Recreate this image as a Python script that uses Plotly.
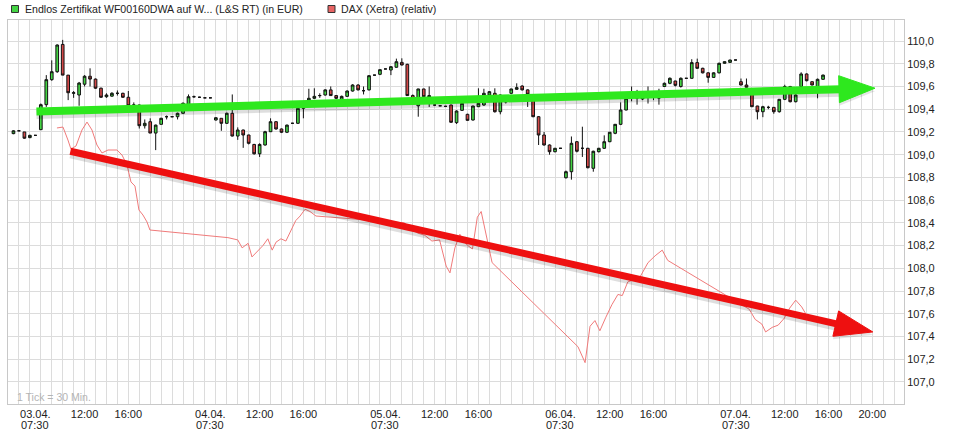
import plotly.graph_objects as go

# ---------------- data (30-min candles, index = slot) ----------------
OPEN = [109.185, 109.21, 109.20, 109.15, 109.17, 109.22, 109.44, 109.66, 109.73, 109.97,
        109.70, 109.54, 109.525, 109.62, 109.69, 109.665, 109.585, 109.51, 109.515, 109.54,
        109.54, 109.505, 109.437, 109.437, 109.255, 109.29, 109.19, 109.267, 109.334, 109.334,
        109.334, 109.364, 109.443, 109.51, 109.505, 109.50, 109.50, 109.305, 109.32, 109.276,
        109.364, 109.164, 109.217, 109.173, 109.09, 109.008, 109.085, 109.202, 109.29, 109.226,
        109.197, 109.276, 109.276, 109.408, 109.466, 109.496, 109.52, 109.525, 109.57, 109.52,
        109.487, 109.513, 109.56, 109.613, 109.563, 109.57, 109.70, 109.707, 109.754, 109.745,
        109.769, 109.812, 109.795, 109.52, 109.43, 109.578, 109.50, 109.437, 109.43, 109.425,
        109.437, 109.282, 109.39, 109.355, 109.305, 109.422, 109.437, 109.525, 109.54, 109.378,
        109.466, 109.54, 109.575, 109.604, 109.57, 109.48, 109.334, 109.173, 109.085, 109.026,
        109.056, 108.797, 108.85, 109.114, 109.056, 109.056, 108.88, 109.026, 109.056, 109.114,
        109.188, 109.267, 109.393, 109.51, 109.50, 109.49, 109.51, 109.51, 109.50, 109.60,
        109.628, 109.648, 109.60, 109.672, 109.672, 109.81, 109.76, 109.72, 109.68, 109.72,
        109.804, 109.812, 109.833, 109.642, 109.613, 109.54, 109.428, 109.378, 109.416, 109.416,
        109.378, 109.487, 109.60, 109.466, 109.60, 109.71, 109.642, 109.60, 109.663]
HIGH = [109.215, 109.21, 109.20, 109.175, 109.17, 109.45, 109.70, 109.83, 109.97, 110.01,
        109.70, 109.56, 109.64, 109.70, 109.76, 109.67, 109.59, 109.54, 109.55, 109.565,
        109.545, 109.56, 109.46, 109.44, 109.31, 109.32, 109.265, 109.325, 109.345, 109.34,
        109.37, 109.46, 109.53, 109.52, 109.51, 109.50, 109.50, 109.33, 109.32, 109.37,
        109.53, 109.24, 109.22, 109.175, 109.095, 109.10, 109.21, 109.32, 109.295, 109.23,
        109.265, 109.28, 109.41, 109.43, 109.58, 109.584, 109.54, 109.575, 109.60, 109.525,
        109.52, 109.565, 109.62, 109.62, 109.60, 109.70, 109.70, 109.75, 109.754, 109.78,
        109.845, 109.848, 109.80, 109.53, 109.58, 109.58, 109.60, 109.45, 109.43, 109.43,
        109.44, 109.39, 109.46, 109.36, 109.43, 109.584, 109.58, 109.56, 109.584, 109.53,
        109.48, 109.58, 109.628, 109.61, 109.575, 109.485, 109.34, 109.20, 109.09, 109.06,
        109.056, 108.86, 109.16, 109.12, 109.246, 109.06, 109.035, 109.06, 109.17, 109.20,
        109.27, 109.46, 109.50, 109.60, 109.57, 109.55, 109.60, 109.56, 109.58, 109.635,
        109.68, 109.65, 109.68, 109.672, 109.84, 109.845, 109.765, 109.725, 109.725, 109.81,
        109.82, 109.835, 109.833, 109.67, 109.67, 109.55, 109.43, 109.43, 109.43, 109.42,
        109.49, 109.615, 109.605, 109.53, 109.725, 109.715, 109.645, 109.67, 109.705]
LOW = [109.18, 109.21, 109.14, 109.145, 109.17, 109.22, 109.42, 109.65, 109.72, 109.70,
       109.48, 109.50, 109.43, 109.60, 109.60, 109.58, 109.50, 109.50, 109.51, 109.52,
       109.50, 109.43, 109.40, 109.23, 109.23, 109.19, 109.04, 109.265, 109.31, 109.33,
       109.31, 109.36, 109.44, 109.50, 109.50, 109.50, 109.50, 109.30, 109.21, 109.27,
       109.16, 109.13, 109.06, 109.09, 109.00, 108.98, 109.08, 109.20, 109.22, 109.19,
       109.19, 109.27, 109.27, 109.32, 109.46, 109.49, 109.50, 109.52, 109.52, 109.49,
       109.48, 109.51, 109.555, 109.565, 109.53, 109.565, 109.70, 109.70, 109.754, 109.70,
       109.765, 109.785, 109.52, 109.44, 109.334, 109.50, 109.42, 109.43, 109.43, 109.42,
       109.28, 109.27, 109.385, 109.30, 109.30, 109.42, 109.43, 109.52, 109.37, 109.355,
       109.45, 109.535, 109.57, 109.565, 109.42, 109.33, 109.085, 109.08, 109.00, 109.02,
       109.056, 108.79, 108.78, 109.02, 108.98, 108.88, 108.85, 109.02, 109.05, 109.11,
       109.18, 109.26, 109.39, 109.47, 109.44, 109.48, 109.45, 109.48, 109.44, 109.595,
       109.62, 109.60, 109.59, 109.672, 109.67, 109.755, 109.715, 109.633, 109.675, 109.715,
       109.80, 109.81, 109.833, 109.61, 109.59, 109.42, 109.31, 109.33, 109.40, 109.36,
       109.37, 109.48, 109.46, 109.46, 109.595, 109.645, 109.61, 109.496, 109.66]
CLOSE = [109.21, 109.21, 109.145, 109.17, 109.17, 109.44, 109.66, 109.73, 109.965, 109.70,
         109.545, 109.545, 109.63, 109.69, 109.665, 109.585, 109.505, 109.525, 109.54, 109.54,
         109.505, 109.43, 109.437, 109.255, 109.276, 109.19, 109.26, 109.32, 109.334, 109.334,
         109.364, 109.452, 109.51, 109.51, 109.505, 109.50, 109.50, 109.325, 109.276, 109.364,
         109.164, 109.217, 109.173, 109.10, 109.008, 109.09, 109.202, 109.29, 109.226, 109.197,
         109.26, 109.276, 109.408, 109.42, 109.496, 109.513, 109.52, 109.57, 109.52, 109.496,
         109.513, 109.56, 109.613, 109.57, 109.563, 109.695, 109.70, 109.748, 109.754, 109.774,
         109.818, 109.789, 109.52, 109.496, 109.578, 109.51, 109.52, 109.437, 109.43, 109.425,
         109.285, 109.384, 109.452, 109.302, 109.428, 109.452, 109.54, 109.554, 109.378, 109.525,
         109.466, 109.578, 109.59, 109.57, 109.531, 109.334, 109.173, 109.085, 109.026, 109.056,
         109.056, 108.85, 109.10, 109.03, 109.056, 108.885, 109.03, 109.056, 109.114, 109.197,
         109.267, 109.393, 109.496, 109.51, 109.50, 109.51, 109.51, 109.51, 109.50, 109.628,
         109.672, 109.61, 109.672, 109.672, 109.81, 109.76, 109.72, 109.68, 109.72, 109.804,
         109.818, 109.833, 109.833, 109.613, 109.593, 109.422, 109.378, 109.422, 109.416, 109.378,
         109.487, 109.60, 109.466, 109.525, 109.71, 109.651, 109.613, 109.663, 109.70]
SLOTS = list(range(len(OPEN)))

# DAX (Xetra) relative line: slot position, value
DAX_X = [7.95, 9.05, 9.96, 10.5, 11.43, 12.52, 13.44, 14.35, 15.26, 16.18, 17.28, 18.92,
         19.84, 20.75, 21.48, 22.21, 22.94, 23.67, 24.41, 24.95,
         39.2, 41.0, 41.8, 42.9, 43.6, 44.7, 45.6, 46.5, 47.3, 48.0, 48.9, 49.8, 50.7,
         51.6, 52.4, 53.3, 54.2, 55.3,
         71.5, 72.5, 73.9, 75.2, 76.5, 77.9, 79.1, 79.8, 80.7, 81.6, 82.8, 83.9, 84.8,
         85.5, 87.5,
         103.2, 104.5, 105.4, 106.3, 107.2, 108.3, 109.4, 110.5, 111.3, 112.3, 113.4,
         114.5, 116.0, 117.3, 118.6, 119.6,
         134.5, 135.6, 136.8, 137.5, 138.7, 139.8, 140.9, 141.9, 143.0, 144.1, 145.2, 146.3]
DAX_Y = [109.235, 109.243, 109.129, 109.05, 109.076, 109.217, 109.287, 109.217, 109.085,
         109.015, 109.041, 109.041, 108.997, 108.909, 108.76, 108.724, 108.513, 108.469,
         108.408, 108.337,
         108.27, 108.25, 108.18, 108.22, 108.10, 108.16, 108.20, 108.26, 108.16, 108.23,
         108.26, 108.24, 108.33, 108.42, 108.46, 108.52, 108.50, 108.46,
         108.40, 108.35, 108.31, 108.29, 108.24, 108.25, 108.02, 107.96, 108.18, 108.30,
         108.21, 108.17, 108.45, 108.50, 108.05,
         107.31, 107.17, 107.49, 107.54, 107.45, 107.57, 107.68, 107.77, 107.76, 107.88,
         107.90, 107.92, 108.05, 108.11, 108.16, 108.07,
         107.64, 107.55, 107.51, 107.44, 107.48, 107.50, 107.56, 107.65, 107.72, 107.66,
         107.57, 107.55]

# x tick labels (slot index of the labelled candle), first and second text line
X_TICKS = [4, 13, 21, 36, 45, 53, 68, 77, 85, 100, 109, 117, 132, 141, 149, 157]
X_LABELS = ["03.04.", "12:00", "16:00", "04.04.", "12:00", "16:00",
            "05.04.", "12:00", "16:00", "06.04.", "12:00", "16:00",
            "07.04.", "12:00", "16:00", "20:00"]
X_SUBLABELS = ["07:30", "", "", "07:30", "", "", "07:30", "", "", "07:30", "", "",
               "07:30", "", "", ""]
Y_TICKS = [107.0, 107.2, 107.4, 107.6, 107.8, 108.0, 108.2, 108.4, 108.6, 108.8,
           109.0, 109.2, 109.4, 109.6, 109.8, 110.0]

SERIES_NAMES = ["Endlos Zertifikat WF00160DWA auf W... (L&S RT) (in EUR)",
                "DAX (Xetra) (relativ)"]

# drawn trend arrows (tail -> tip, in axis units)
GREEN_ARROW = ((4.2, 109.38), (157.5, 109.585))
RED_ARROW = ((10.4, 109.03), (157.1, 107.44))

# ---------------- layout geometry ----------------
W, H = 954, 434
ML, MR, MT, MB = 8, 50, 20, 30
XR = [-1.0, 162.8]
YR = [106.806, 110.185]
PW, PH = W - ML - MR, H - MT - MB
sx = PW / (XR[1] - XR[0])
sy = PH / (YR[1] - YR[0])

GRID = "#dcdcdc"
TXT = "#222222"
FONT = "Liberation Sans, Arial, sans-serif"

fig = go.Figure()

fig.add_trace(go.Scatter(x=DAX_X, y=DAX_Y, mode="lines",
                         line=dict(color="#f07a7a", width=1), hoverinfo="skip",
                         showlegend=False))

fig.add_trace(go.Candlestick(
    x=SLOTS, open=OPEN, high=HIGH, low=LOW, close=CLOSE,
    increasing=dict(line=dict(color="#111111", width=1), fillcolor="#44d444"),
    decreasing=dict(line=dict(color="#111111", width=1), fillcolor="#d24848"),
    whiskerwidth=0, showlegend=False))


def arrow(tail, tip, head_len, head_w):
    (x0, y0), (x1, y1) = tail, tip
    dxp, dyp = (x1 - x0) * sx, (y1 - y0) * sy
    L = (dxp ** 2 + dyp ** 2) ** 0.5
    ux, uy = dxp / L, dyp / L
    nx, ny = -uy, ux
    bx, by = x1 - ux * head_len / sx, y1 - uy * head_len / sy
    tri_x = [x1, bx + nx * head_w / 2 / sx, bx - nx * head_w / 2 / sx, x1]
    tri_y = [y1, by + ny * head_w / 2 / sy, by - ny * head_w / 2 / sy, y1]
    line_end_x = x1 - ux * (head_len - 2) / sx
    line_end_y = y1 - uy * (head_len - 2) / sy
    return ([x0, line_end_x], [y0, line_end_y]), (tri_x, tri_y)


for (tail, tip, wdt, hl, hw, col) in [
        (GREEN_ARROW[0], GREEN_ARROW[1], 8, 36, 27, "#2ee81e"),
        (RED_ARROW[0], RED_ARROW[1], 7, 38, 26, "#ee1010")]:
    (lx, ly), (tx, ty) = arrow(tail, tip, hl, hw)
    off = 3 / sy
    fig.add_trace(go.Scatter(x=lx, y=[v - off for v in ly], mode="lines",
                             line=dict(color="rgba(0,0,0,0.13)", width=wdt + 1),
                             hoverinfo="skip", showlegend=False))
    fig.add_trace(go.Scatter(x=tx, y=[v - off for v in ty], mode="lines", fill="toself",
                             fillcolor="rgba(0,0,0,0.10)", line=dict(width=0),
                             hoverinfo="skip", showlegend=False))
    fig.add_trace(go.Scatter(x=lx, y=ly, mode="lines", line=dict(color=col, width=wdt),
                             hoverinfo="skip", showlegend=False))
    fig.add_trace(go.Scatter(x=tx, y=ty, mode="lines", fill="toself", fillcolor=col,
                             line=dict(color=col, width=1), hoverinfo="skip",
                             showlegend=False))


def px2paper_x(px):          # page pixel -> paper
    return (px - ML) / PW


def py2paper_y(py):
    return (H - MB - py) / PH


shapes = []
annotations = []
for (sq_x, txt_x, fill, label) in [(11.5, 22.5, "#44d444", SERIES_NAMES[0]),
                                   (328, 339, "#e86464", SERIES_NAMES[1])]:
    shapes.append(dict(type="rect", xref="paper", yref="paper",
                       x0=px2paper_x(sq_x), x1=px2paper_x(sq_x + 7),
                       y0=py2paper_y(12.5), y1=py2paper_y(5.5),
                       fillcolor=fill, line=dict(color="#333333", width=1)))
    annotations.append(dict(xref="paper", yref="paper", x=px2paper_x(txt_x),
                            y=py2paper_y(9), text=label, showarrow=False,
                            xanchor="left", yanchor="middle",
                            font=dict(family=FONT, size=10.6, color=TXT)))
annotations.append(dict(xref="paper", yref="paper", x=px2paper_x(15), y=py2paper_y(397),
                        text="1 Tick = 30 Min.", showarrow=False, xanchor="left",
                        yanchor="middle", font=dict(family=FONT, size=10.5, color="#b4b4b4")))
for xv, sub in zip(X_TICKS, X_SUBLABELS):
    if sub:
        annotations.append(dict(xref="x", yref="paper", x=xv, y=py2paper_y(425),
                                text=sub, showarrow=False, xanchor="center",
                                yanchor="middle", borderpad=0,
                                font=dict(family=FONT, size=11, color=TXT)))

fig.update_layout(
    width=W, height=H, margin=dict(l=ML, r=MR, t=MT, b=MB, autoexpand=False),
    paper_bgcolor="white", plot_bgcolor="white", showlegend=False,
    separators=",.",
    font=dict(family=FONT, size=11, color=TXT),
    shapes=shapes, annotations=annotations,
    xaxis=dict(range=XR, tickmode="array", tickvals=X_TICKS, ticktext=X_LABELS,
               showgrid=False, zeroline=False, rangeslider=dict(visible=False),
               ticks="", ticklen=0, showline=True, linecolor="#c8c8c8", mirror=True,
               tickfont=dict(family=FONT, size=11, color=TXT),
               minor=dict(tickmode="linear", tick0=1, dtick=2, showgrid=True,
                          gridcolor=GRID, gridwidth=1)),
    yaxis=dict(range=YR, side="right", tickmode="array", tickvals=Y_TICKS,
               tickformat=".1f", showgrid=True, gridcolor=GRID, zeroline=False,
               ticks="", showline=True, linecolor="#c8c8c8", mirror=True,
               tickfont=dict(family=FONT, size=11, color=TXT)),
)

fig.write_html("out.html", config={"displayModeBar": False},
               post_script="document.body.style.margin='0px';"
                           "document.body.style.padding='0px';")
